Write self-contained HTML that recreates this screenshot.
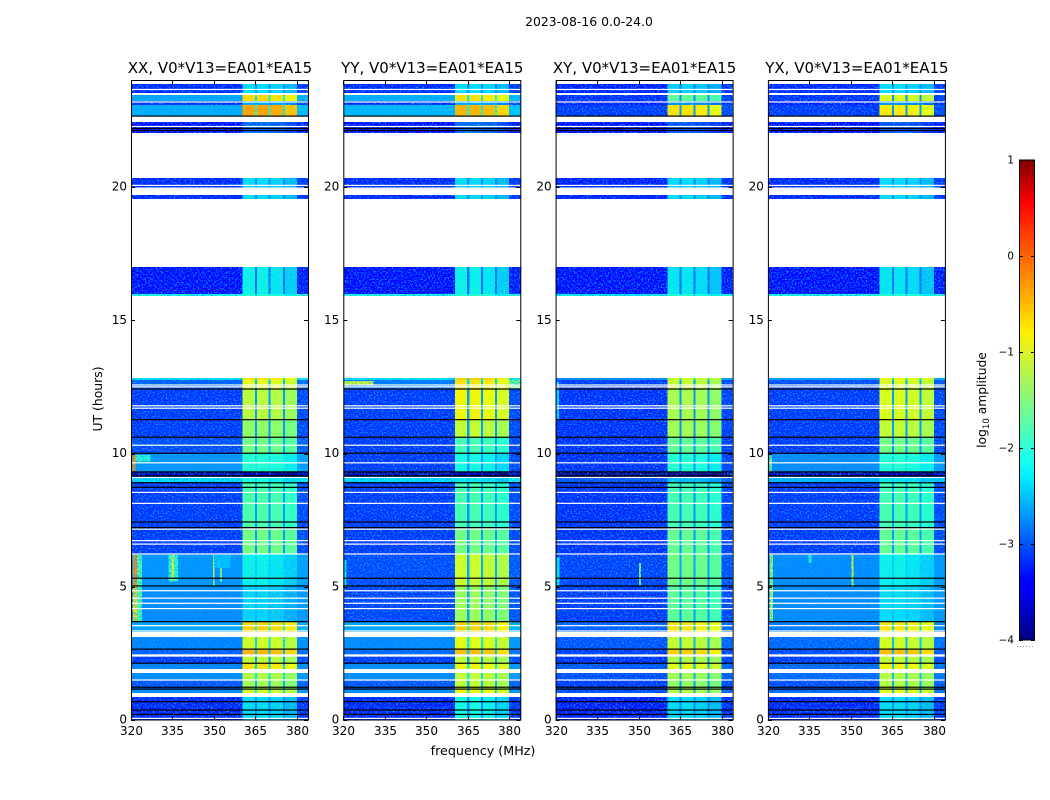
<!DOCTYPE html>
<html lang="en">
<head>
<meta charset="utf-8">
<title>2023-08-16 dynamic spectra</title>
<style>
html,body{margin:0;padding:0;background:#fff;}
#chart{display:block;position:absolute;left:0;top:0;}
text{font-family:"DejaVu Sans","Liberation Sans",sans-serif;fill:#000;}
</style>
</head>
<body>
<svg id="chart" xmlns="http://www.w3.org/2000/svg" width="1050" height="800" viewBox="0 0 1050 800">
  <defs>
    <filter id="speckle" filterUnits="userSpaceOnUse" x="0" y="0" width="1050" height="800" color-interpolation-filters="sRGB">
      <feTurbulence type="fractalNoise" baseFrequency="0.62" numOctaves="1" seed="7" result="noise"/>
      <feColorMatrix in="noise" type="matrix" values="0 0 0 0 0.05  0 0 0 0 0.62  0 0 0 0 1  3.2 0 0 0 -1.45" result="tint"/>
      <feComposite in="tint" in2="SourceAlpha" operator="in" result="clipped"/>
      <feMerge><feMergeNode in="SourceGraphic"/><feMergeNode in="clipped"/></feMerge>
    </filter>
    <filter id="speckle-soft" filterUnits="userSpaceOnUse" x="0" y="0" width="1050" height="800" color-interpolation-filters="sRGB">
      <feTurbulence type="fractalNoise" baseFrequency="0.5" numOctaves="1" seed="3" result="noise"/>
      <feColorMatrix in="noise" type="matrix" values="0 0 0 0 0.5  0 0 0 0 0.95  0 0 0 0 0.5  1.4 0 0 0 -0.72" result="tint"/>
      <feComposite in="tint" in2="SourceAlpha" operator="in" result="clipped"/>
      <feMerge><feMergeNode in="SourceGraphic"/><feMergeNode in="clipped"/></feMerge>
    </filter>
    <linearGradient id="jet-gradient" x1="0" y1="1" x2="0" y2="0">
      <stop offset="0" stop-color="#000080"/>
      <stop offset="0.11" stop-color="#0000ff"/>
      <stop offset="0.125" stop-color="#0000ff"/>
      <stop offset="0.34" stop-color="#00f0ff"/>
      <stop offset="0.375" stop-color="#19fff0"/>
      <stop offset="0.64" stop-color="#fff000"/>
      <stop offset="0.66" stop-color="#ffe000"/>
      <stop offset="0.89" stop-color="#ff1500"/>
      <stop offset="0.91" stop-color="#ff0000"/>
      <stop offset="1" stop-color="#800000"/>
    </linearGradient>
  </defs>
  <text x="589" y="26" text-anchor="middle" font-size="12.4">2023-08-16 0.0-24.0</text>
  <text x="483" y="755" text-anchor="middle" font-size="12.7">frequency (MHz)</text>
  <text transform="translate(102 399) rotate(-90)" text-anchor="middle" font-size="12.4">UT (hours)</text>
  <g id="panels"></g>
  <g id="colorbar"></g>
  <text transform="translate(986 400) rotate(-90)" text-anchor="middle" font-size="12.3">log<tspan font-size="8.6" dy="3">10</tspan><tspan dy="-3"> amplitude</tspan></text>
</svg>
<script>
// ---------- DATA ----------
const panelTitles = ["XX, V0*V13=EA01*EA15", "YY, V0*V13=EA01*EA15", "XY, V0*V13=EA01*EA15", "YX, V0*V13=EA01*EA15"];
const freqTicks = [320, 335, 350, 365, 380];
const utTicks = [0, 5, 10, 15, 20];
const colorTicks = [1, 0, -1, -2, -3, -4];

// UT segment edges (hours); 40 segments, null value = no data
const utEdges = [0,0.86,1.02,1.16,1.5,1.76,1.91,2.12,2.38,2.64,3.11,3.31,3.68,5.03,6.23,7.2,8.93,9.1,9.3,9.98,10.62,11.26,12.42,12.76,12.83,15.91,15.98,17,19.55,19.7,19.98,20.34,22.03,22.44,22.65,23.08,23.22,23.45,23.53,23.86,24];
// Frequency channel groups (MHz): background, block, notch, block, notch, block, notch, block, upper band
const freqEdges = [320,360.4,364.8,365.6,369.8,370.5,374.9,375.6,380,384];
const columnKinds = ["bg","block","notch","block","notch","block","notch","block","upper"];
// Relative level of each of the four in-band blocks
const blockTilts = [0.05, 0.05, 0, -0.12];

// log10 amplitude of the out-of-band background per UT segment
const xxBackground = [-3.25,null,-2.7,-3,-2.7,null,-2.75,-3.15,-2.95,-2.75,null,-2.55,-2.7,-2.65,-3.15,-3.15,-2.25,-3.8,-2.65,-3.05,-3.15,-3.15,-2.95,-2.25,null,-2.1,-3.4,null,-3.25,null,-3.25,null,-3.4,null,-2.5,-3.2,-2.55,null,-3.25,null];
const yyBackground = [-3.25,null,-2.7,-3,-2.7,null,-2.7,-3.15,-2.9,-2.7,null,-2.55,-3.1,-3.05,-3.15,-3.15,-2.25,-3.8,-3.15,-3.15,-3.15,-3.15,-2.8,-2.25,null,-2.1,-3.4,null,-3.25,null,-3.25,null,-3.4,null,-2.45,-3.2,-2.5,null,-3.25,null];
const xyBackground = [-3.3,null,-3.05,-3.15,-3.05,null,-3,-3.2,-3.15,-3,null,-2.95,-3.15,-3.1,-3.2,-3.2,-3,-3.9,-3.2,-3.2,-3.2,-3.2,-3.15,-2.7,null,-2.2,-3.4,null,-3.3,null,-3.3,null,-3.4,null,-3.15,-3.3,-3.2,null,-3.3,null];
const yxBackground = [-3.25,null,-2.9,-3.05,-2.9,null,-2.9,-3.15,-3.05,-2.9,null,-2.8,-2.7,-2.7,-3.15,-3.15,-2.45,-3.8,-2.7,-3.15,-3.15,-3.15,-3.05,-2.6,null,-2.1,-3.4,null,-3.25,null,-3.25,null,-3.4,null,-3.15,-3.3,-3.2,null,-3.25,null];

// log10 amplitude of the four bright in-band blocks per UT segment
const xxBlocks = [-2.35,null,-1,-1.3,-1.2,null,-0.7,-1.1,-0.45,-1,null,-0.6,-2.4,-2.25,-1.6,-1.85,-2.2,-3.8,-2.1,-1.6,-1.4,-1.15,-0.9,-0.7,null,-2.1,-2.25,null,-2.35,null,-2.35,null,-2.9,null,-0.35,-2.6,-0.65,null,-2.35,null];
const yyBlocks = [-2.2,null,-0.8,-1.1,-1.1,null,-0.8,-1.1,-0.5,-0.9,null,-0.6,-1.35,-1.05,-1.6,-1.9,-2.3,-3.8,-2.2,-1.9,-1.1,-0.8,-0.7,-0.6,null,-2.1,-2.25,null,-2.35,null,-2.35,null,-2.9,null,-0.45,-2.6,-0.7,null,-2.35,null];
const xyBlocks = [-2.35,null,-1.2,-1.4,-1.3,null,-0.9,-1.2,-0.6,-1.1,null,-0.7,-1.75,-1.6,-1.7,-1.9,-2.5,-3.9,-2.1,-1.7,-1.3,-1.25,-1.1,-1,null,-2.1,-2.3,null,-2.35,null,-2.35,null,-3,null,-0.7,-2.7,-1.7,null,-2.4,null];
const yxBlocks = [-2.35,null,-0.9,-1.2,-1.2,null,-0.8,-1.1,-0.5,-1,null,-0.7,-2.35,-2.25,-1.7,-1.9,-2.3,-3.8,-2.1,-1.6,-1.1,-0.95,-0.95,-0.8,null,-2.1,-2.3,null,-2.35,null,-2.35,null,-3,null,-0.75,-2.7,-0.95,null,-2.35,null];

// Localised interference: [utStart, utEnd, freqStart, freqEnd, log10 amplitude]
const xxInterference = [[3.68,5.03,320.8,322.2,-0.6],[5.03,6.2,320.8,322.2,-0.2],[3.68,6.2,322.2,324,-1.8],[5.2,6.2,333.6,337,-2],[5.2,6.2,334.6,335.6,-0.9],[5.05,6.2,349.6,350.2,-0.9],[5.2,6.2,352.2,352.9,-1.3],[5.7,6.2,350,356,-2.4],[9.3,9.98,320.6,321.6,-0.2],[9.7,9.95,321.6,327,-2]];
const yyInterference = [[12.55,12.72,320,331,-0.9],[12.42,12.76,380,384,-1.6],[5,6,320.4,321.2,-2.2]];
const xyInterference = [[5.03,6.1,320.4,321.4,-2.2],[5.05,5.9,350.2,350.8,-1.5],[11.3,12.7,320.4,321.2,-2.3]];
const yxInterference = [[3.68,6.2,320.8,321.8,-1.3],[5,6.2,350.2,350.9,-0.9],[5.9,6.2,334.6,335.8,-2],[9.3,9.98,320.6,321.4,-1.6]];

// Flagged integrations drawn across the band (UT hours)
const whiteFlags = [0.06,1.5,2.4,2.44,3.34,3.54,4.18,4.38,4.57,4.85,6.23,6.6,6.73,7.16,8.13,8.54,9.1,9.65,10.31,11.7,11.79,12.5,12.57,20.06,22.27,23.19,23.66];
const blackFlags = [0.21,0.375,0.687,1.16,1.23,2.13,2.66,3.69,5.03,5.32,7.22,7.43,8.73,8.9,9.16,9.31,10.01,10.61,11.27,12.42,22.12,22.2,22.66];

// ---------- SCALES ----------
const NS = "http://www.w3.org/2000/svg";
const plotW = 177, freqMin = 320, freqPerPx = 64 / plotW;
function panelLeft(i) { return 131 + i * 212.3; }
function utY(h) { return 720 - h * 26.65; }
function freqX(f, i) { return panelLeft(i) + (f - freqMin) / freqPerPx; }
function colorY(v) { return 160 + (1 - v) * 96; }

function ramp(t, pts) {
  for (let k = 1; k < pts.length; k++) {
    if (t <= pts[k][0]) {
      const a = pts[k - 1], b = pts[k];
      return a[1] + (b[1] - a[1]) * (t - a[0]) / (b[0] - a[0]);
    }
  }
  return pts[pts.length - 1][1];
}
function jet(v) {
  const t = Math.max(0, Math.min(1, (v + 4) / 5));
  const r = ramp(t, [[0,0],[0.35,0],[0.66,1],[0.89,1],[1,0.5]]);
  const g = ramp(t, [[0,0],[0.125,0],[0.375,1],[0.64,1],[0.91,0],[1,0]]);
  const b = ramp(t, [[0,0.5],[0.11,1],[0.34,1],[0.65,0],[1,0]]);
  return "rgb(" + Math.round(r * 255) + "," + Math.round(g * 255) + "," + Math.round(b * 255) + ")";
}
function make(tag, attrs, parent, content) {
  const el = document.createElementNS(NS, tag);
  for (const k in attrs) el.setAttribute(k, attrs[k]);
  if (content !== undefined) el.textContent = content;
  parent.appendChild(el);
  return el;
}

// ---------- PANELS ----------
const panelsRoot = document.getElementById("panels");
const backgrounds = [xxBackground, yyBackground, xyBackground, yxBackground];
const blocks = [xxBlocks, yyBlocks, xyBlocks, yxBlocks];
const interference = [xxInterference, yyInterference, xyInterference, yxInterference];
const panelKeys = ["xx", "yy", "xy", "yx"];

panelTitles.forEach(function (title, p) {
  const key = panelKeys[p];
  const group = make("g", {}, panelsRoot);
  
  
  const left = panelLeft(p);

  const heat = make("g", { filter: "url(#speckle)", "shape-rendering": "crispEdges" }, group);
  
  
  const heatBlocks = make("g", { filter: "url(#speckle-soft)", "shape-rendering": "crispEdges" }, group);
  
  

  for (let s = 0; s < utEdges.length - 1; s++) {
    const bg = backgrounds[p][s], bl = blocks[p][s];
    if (bg === null || bl === null) continue;
    const y0 = utY(utEdges[s + 1]), y1 = utY(utEdges[s]);
    let blockIndex = 0;
    for (let c = 0; c < columnKinds.length; c++) {
      const kind = columnKinds[c];
      let v = bg;
      if (kind === "block") { v = bl + blockTilts[blockIndex]; blockIndex++; }
      else if (kind === "notch") v = Math.max(bg, Math.min(bl, bg + 0.55));
      else if (kind === "upper") v = bg + 0.08;
      const x0 = freqX(freqEdges[c], p), x1 = freqX(freqEdges[c + 1], p);
      const cell = make("rect", { x: x0, y: y0, width: x1 - x0, height: y1 - y0, fill: jet(v) }, kind === "block" ? heatBlocks : heat);
      
      
    }
  }
  interference[p].forEach(function (q) {
    const x0 = freqX(q[2], p), x1 = freqX(q[3], p), y0 = utY(q[1]), y1 = utY(q[0]);
    const patch = make("rect", { x: x0, y: y0, width: x1 - x0, height: y1 - y0, fill: jet(q[4]) }, heat);
    
    
  });

  whiteFlags.forEach(function (h) {
    const line = make("rect", { x: left, y: utY(h) - 0.6, width: plotW, height: 1.2, fill: "#fff" }, group);
    
    
  });
  blackFlags.forEach(function (h) {
    const line = make("rect", { x: left, y: utY(h) - 0.6, width: plotW, height: 1.2, fill: "#000" }, group);
    
    
  });

  const frame = make("rect", { x: left + 0.5, y: 80.5, width: plotW, height: 639.5, fill: "none", stroke: "#000", "stroke-width": 1 }, group);
  
  

  const ttl = make("text", { x: left + plotW / 2 + 0.5, y: 73, "text-anchor": "middle", "font-size": 15 }, group, title);
  
  

  freqTicks.forEach(function (f) {
    const x = Math.round(freqX(f, p)) + 0.5;
    const t1 = make("line", { x1: x, x2: x, y1: 720, y2: 716, stroke: "#000", "stroke-width": 1 }, group);
    
    
    const t2 = make("line", { x1: x, x2: x, y1: 81, y2: 85, stroke: "#000", "stroke-width": 1 }, group);
    
    
    const lab = make("text", { x: x, y: 735, "text-anchor": "middle", "font-size": 12 }, group, String(f));
    
    
  });
  utTicks.forEach(function (h) {
    const y = Math.round(utY(h)) + 0.5;
    const t1 = make("line", { x1: left, x2: left + 4, y1: y, y2: y, stroke: "#000", "stroke-width": 1 }, group);
    
    
    const t2 = make("line", { x1: left + plotW - 4, x2: left + plotW, y1: y, y2: y, stroke: "#000", "stroke-width": 1 }, group);
    
    
    const lab = make("text", { x: left - 4, y: utY(h) + 3.5, "text-anchor": "end", "font-size": 12 }, group, String(h));
    
    
  });
});

// ---------- COLORBAR ----------
const cbRoot = document.getElementById("colorbar");
const cbLeft = 1019, cbW = 15;
const cbRect = make("rect", { x: cbLeft + 0.5, y: colorY(1), width: cbW, height: colorY(-4) - colorY(1), fill: "url(#jet-gradient)", stroke: "#000", "stroke-width": 1 }, cbRoot);


colorTicks.forEach(function (v) {
  const y = Math.round(colorY(v)) + 0.5;
  const a = make("line", { x1: cbLeft, x2: cbLeft + 4, y1: y, y2: y, stroke: "#000", "stroke-width": 1 }, cbRoot);
  
  
  const b = make("line", { x1: cbLeft + cbW - 3, x2: cbLeft + cbW + 1, y1: y, y2: y, stroke: "#000", "stroke-width": 1 }, cbRoot);
  
  
  const lab = make("text", { x: 1014, y: colorY(v) + 3.5, "text-anchor": "end", "font-size": 10.4 }, cbRoot, v < 0 ? "\u2212" + Math.abs(v) : String(v));
  
  
});
const cbDots = make("line", { x1: 1017, x2: 1035, y1: 646.5, y2: 646.5, stroke: "#999", "stroke-width": 1, "stroke-dasharray": "1 2" }, cbRoot);


</script>
</body>
</html>
